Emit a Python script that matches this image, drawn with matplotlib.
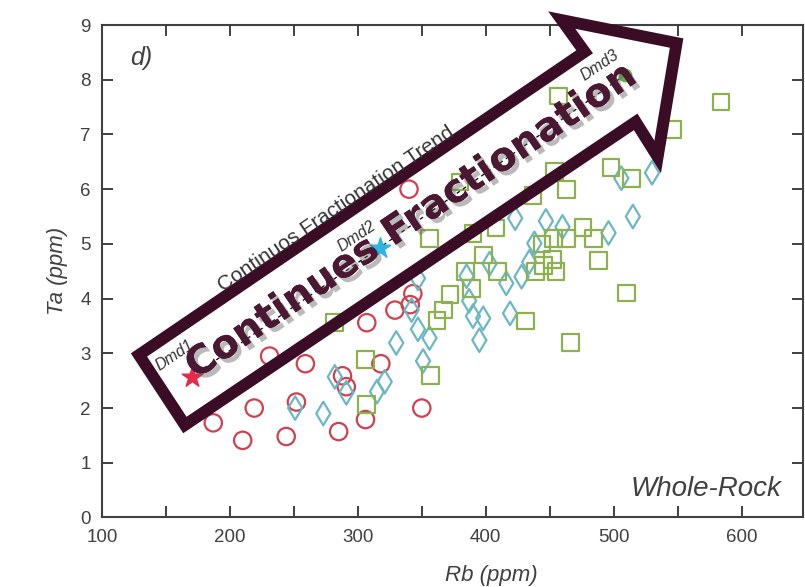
import matplotlib
matplotlib.use('Agg')
import matplotlib.pyplot as plt
import matplotlib.patheffects as pe
from matplotlib.patches import Polygon
from matplotlib.ticker import MultipleLocator

# whole-rock Rb vs Ta (ppm), three rock groups
rb_circ = [187, 210, 219, 231, 244, 252, 259, 285, 288, 291, 306, 307, 318, 329, 341, 343, 340, 350]
ta_circ = [1.73, 1.41, 2.00, 2.95, 1.48, 2.11, 2.81, 1.57, 2.59, 2.39, 1.79, 3.56, 2.81, 3.79, 3.89, 4.09, 6.00, 2.00]

rb_diam = [251, 273, 282, 291, 315, 321, 330, 342, 347, 356, 351, 347, 385, 387, 390, 398,
           395, 403, 416, 428, 419, 423, 438, 447, 460, 496, 515, 506, 530, 434]
ta_diam = [2.00, 1.90, 2.57, 2.28, 2.30, 2.48, 3.19, 3.79, 3.44, 3.28, 2.86, 4.37, 4.41, 3.96, 3.68, 3.64,
           3.24, 4.64, 4.28, 4.40, 3.73, 5.47, 5.01, 5.42, 5.31, 5.20, 5.50, 6.20, 6.30, 4.67]

rb_sq = [282, 306, 307, 357, 362, 367, 372, 389, 384, 409, 398, 356, 390, 408, 380, 437, 454, 463,
         457, 498, 514, 546, 584, 476, 484, 463, 453, 444, 488, 452, 445, 455, 439, 510, 431, 466]
ta_sq = [3.56, 2.89, 2.06, 2.59, 3.60, 3.79, 4.08, 4.19, 4.49, 4.49, 4.80, 5.10, 5.19, 5.29, 6.13, 5.89, 6.32, 6.00,
         7.70, 6.40, 6.20, 7.09, 7.59, 5.30, 5.10, 5.10, 5.10, 5.00, 4.70, 4.71, 4.61, 4.50, 4.49, 4.10, 3.59, 3.20]

# Dmd1 -> Dmd2 -> Dmd3 fractionation path
dmd_names = ['Dmd1', 'Dmd2', 'Dmd3']
dmd_rb = [170, 317, 509]
dmd_ta = [2.57, 4.93, 8.09]

plt.rcParams['font.family'] = ['Liberation Sans', 'DejaVu Sans']
grey = '#404040'

fig = plt.figure(figsize=(8.05, 5.87), dpi=100)
ax = fig.add_axes([0.1267, 0.1184, 0.8708, 0.839])

ax.scatter(rb_circ, ta_circ, s=12.5**2, marker='o', facecolors='none',
           edgecolors='#d1404f', linewidths=1.6, zorder=3)
ax.scatter(rb_diam, ta_diam, s=12**2, marker='d', facecolors='none',
           edgecolors='#6cb7c4', linewidths=1.6, zorder=3)
ax.scatter(rb_sq, ta_sq, s=12**2, marker='s', facecolors='none',
           edgecolors='#8db14e', linewidths=1.6, zorder=3)

ax.plot(dmd_rb, dmd_ta, ls=(0, (3, 3)), color='k', lw=0.9, zorder=4)
ax.scatter(dmd_rb[0], dmd_ta[0], marker='*', s=240, color='#e8294b', zorder=5)
ax.scatter(dmd_rb[1], dmd_ta[1], marker='*', s=240, color='#2bb6e2', zorder=5)
ax.scatter(dmd_rb[2], dmd_ta[2], marker='o', s=80, color='#5cb83c', zorder=5)

label_pos = [(157, 2.97), (299, 5.13), (489, 8.27)]
for name, (lx, ly) in zip(dmd_names, label_pos):
    ax.text(lx, ly, name, rotation=34, rotation_mode='anchor', ha='center', va='center',
            fontsize=11.5, style='italic', color='#333333', zorder=5)

# hollow trend arrow
arrow_x = [128.9, 477.3, 459.4, 549.2, 534.4, 517.2, 164.8]
arrow_y = [2.97, 8.51, 9.09, 8.67, 6.59, 7.23, 1.69]
ax.add_patch(Polygon(list(zip(arrow_x, arrow_y)), closed=True, fill=False,
                     edgecolor='#3b0c26', lw=8.5, joinstyle='miter', clip_on=False, zorder=6))

ax.text(283, 5.64, 'Continuos Fractionation Trend', rotation=34, rotation_mode='anchor',
        ha='center', va='center', fontsize=15, color='#333333', zorder=6)
ax.text(342, 5.42, 'Continues Fractionation', rotation=34, rotation_mode='anchor',
        ha='center', va='center', fontsize=28.5, fontweight='bold', family='DejaVu Sans',
        color='#4a1832', zorder=7,
        path_effects=[pe.withSimplePatchShadow(offset=(3, -3), shadow_rgbFace='0.4', alpha=0.45),
                      pe.Normal()])

ax.text(0.056, 0.933, 'd)', transform=ax.transAxes, ha='center', va='center',
        fontsize=18, style='italic', color=grey)
ax.text(0.862, 0.058, 'Whole-Rock', transform=ax.transAxes, ha='center', va='center',
        fontsize=20, style='italic', color=grey)

ax.set_xlim(100, 648)
ax.set_ylim(0, 9)
ax.xaxis.set_major_locator(MultipleLocator(100))
ax.xaxis.set_minor_locator(MultipleLocator(50))
ax.yaxis.set_major_locator(MultipleLocator(1))
ax.tick_params(which='both', direction='in', top=True, right=True, length=8,
               width=1.4, color=grey, labelcolor=grey, labelsize=13.5, pad=8)
for sp in ax.spines.values():
    sp.set_color(grey)
    sp.set_linewidth(1.5)

ax.set_xlabel('Rb (ppm)', fontsize=16, style='italic', color=grey)
ax.xaxis.set_label_coords(0.555, -0.096)
ax.set_ylabel('Ta (ppm)', fontsize=16, style='italic', color=grey)
ax.yaxis.set_label_coords(-0.048, 0.5)

fig.savefig('out.png', dpi=100)
